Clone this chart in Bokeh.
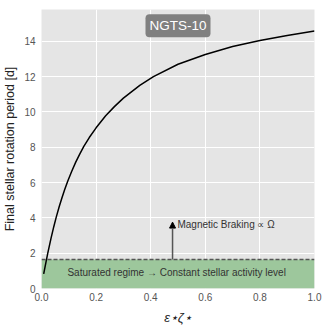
from bokeh.plotting import figure
from bokeh.models import ColumnDataSource, Label, Arrow, NormalHead, FixedTicker, Range1d, NumeralTickFormatter
from bokeh.embed import file_html
from bokeh.resources import INLINE

# data
eps_zeta = [0.008, 0.015, 0.023, 0.035, 0.045, 0.054, 0.065, 0.075, 0.085, 0.096,
            0.11, 0.125, 0.14, 0.155, 0.175, 0.2, 0.235, 0.267, 0.3, 0.36,
            0.41, 0.5, 0.6, 0.7, 0.8, 0.9, 1.0]
p_final = [0.83, 1.38, 2.0, 2.85, 3.5, 4.04, 4.64, 5.14, 5.6, 6.07,
           6.61, 7.14, 7.61, 8.05, 8.55, 9.1, 9.78, 10.3, 10.78, 11.5,
           12.0, 12.7, 13.25, 13.7, 14.05, 14.33, 14.58]
p_sat = 1.64
arrow_x = 0.48
arrow_top = 3.76
x_ticks = [0.0, 0.2, 0.4, 0.6, 0.8, 1.0]
y_ticks = [0, 2, 4, 6, 8, 10, 12, 14]
title_text = "NGTS-10"
sat_text = "Saturated regime \u2192 Constant stellar activity level"
brake_text = "Magnetic Braking \u221d \u03a9"

FONT = "Liberation Sans"

p = figure(width=330, height=330, output_backend="svg", toolbar_location=None,
           x_range=Range1d(0, 1), y_range=Range1d(0, 15.8),
           min_border_left=41, min_border_right=16, min_border_top=9, min_border_bottom=42)
p.background_fill_color = "#E5E5E5"
p.border_fill_color = "white"
p.outline_line_color = None

for ax in (p.xaxis[0], p.yaxis[0]):
    ax.axis_line_color = None
    ax.major_tick_line_color = None
    ax.minor_tick_line_color = None
    ax.major_tick_out = 0
    ax.major_tick_in = 0
    ax.minor_tick_out = 0
    ax.major_label_text_color = "#555555"
    ax.major_label_text_font = FONT
    ax.major_label_text_font_size = "10px"
    ax.axis_label_text_font = FONT
    ax.axis_label_text_font_style = "normal"
    ax.axis_label_text_color = "#222222"

p.xaxis.ticker = FixedTicker(ticks=x_ticks)
p.yaxis.ticker = FixedTicker(ticks=y_ticks)
p.xaxis.formatter = NumeralTickFormatter(format="0.0")
p.xaxis.major_label_standoff = 4
p.yaxis.major_label_standoff = 6
p.xaxis.axis_label = "\u03b5\u22c6\u03b6\u22c6"
p.xaxis.axis_label_text_font_style = "italic"
p.xaxis.axis_label_text_font_size = "13px"
p.xaxis.axis_label_standoff = 6
p.yaxis.axis_label = "Final stellar rotation period [d]"
p.yaxis.axis_label_text_font_size = "12.5px"
p.yaxis.axis_label_standoff = 4

p.grid.grid_line_color = "white"
p.grid.grid_line_width = 1

# saturated regime band
p.varea(x=[0, 1], y1=[0, 0], y2=[p_sat, p_sat], fill_color="#9dc79c")
p.line(x=[0, 1], y=[p_sat, p_sat], line_color="#555555", line_width=1.5, line_dash="4 2")

# curve
src = ColumnDataSource(dict(x=eps_zeta, y=p_final))
p.line("x", "y", source=src, line_color="black", line_width=1.5)

# arrow
p.add_layout(Arrow(x_start=arrow_x, y_start=p_sat, x_end=arrow_x, y_end=arrow_top,
                   line_color="#555555", line_width=1.5,
                   end=NormalHead(size=6, fill_color="black", line_color="black")))

p.add_layout(Label(x=arrow_x + 0.018, y=3.6, text=brake_text, text_font=FONT,
                   text_font_size="10px", text_color="#333333",
                   text_baseline="middle", text_align="left"))

p.add_layout(Label(x=0.495, y=0.9, text=sat_text, text_font=FONT,
                   text_font_size="10px", text_color="#333333",
                   text_baseline="middle", text_align="center"))

p.add_layout(Label(x=0.5, y=14.88, text=title_text, text_font=FONT,
                   text_font_size="13.5px", text_color="white",
                   text_baseline="middle", text_align="center",
                   background_fill_color="#808080", padding=4, border_radius=4))

open("out.html", "w").write(file_html(p, INLINE))
